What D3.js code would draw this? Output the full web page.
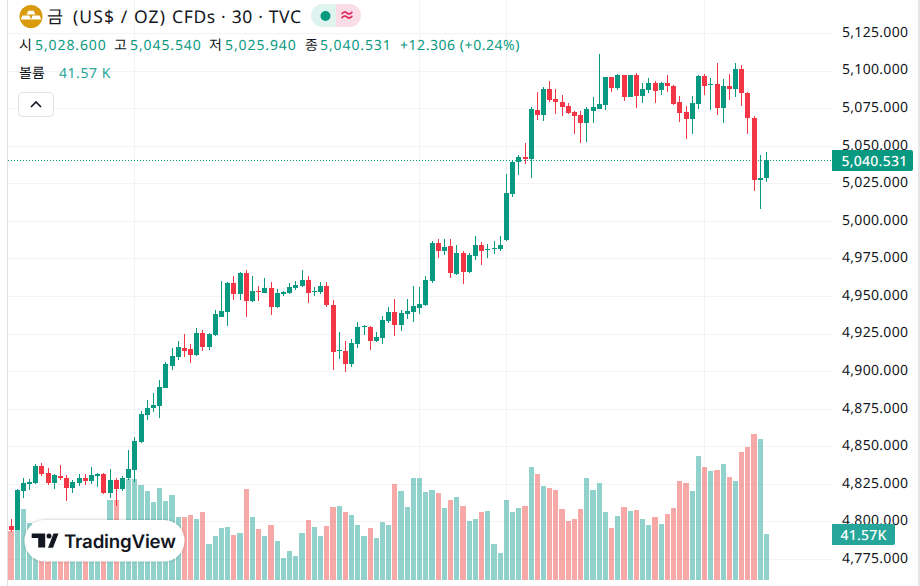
<!DOCTYPE html>
<html lang="ko">
<head>
<meta charset="utf-8">
<script src="https://cdn.jsdelivr.net/npm/d3@7"></script>
<style>
html,body{margin:0;padding:0;background:#fff;overflow:hidden}
svg{display:block}
text{font-family:"Noto Sans","Noto Sans CJK KR",sans-serif;text-rendering:geometricPrecision}
</style>
</head>
<body>
<svg id="c" width="920" height="586"></svg>
<script>
const opens=[4797.0,4794.3,4820.2,4824.9,4825.6,4836.9,4832.2,4825.6,4830.2,4828.9,4822.2,4825.6,4828.9,4826.9,4830.2,4831.6,4818.9,4827.6,4821.6,4828.9,4834.2,4852.9,4870.8,4875.5,4876.8,4888.8,4903.4,4909.4,4915.4,4914.7,4910.7,4925.4,4916.1,4924.1,4936.0,4939.4,4958.7,4951.3,4965.3,4946.7,4953.3,4952.0,4955.3,4942.7,4951.3,4952.0,4955.3,4956.7,4960.6,4952.7,4952.7,4956.7,4944.0,4913.4,4913.4,4904.8,4918.1,4929.4,4929.4,4920.1,4922.1,4933.4,4939.4,4930.7,4938.0,4939.4,4942.0,4944.0,4960.0,4985.3,4980.0,4983.3,4964.6,4978.6,4966.0,4976.6,4983.9,4980.6,4981.3,4981.3,4987.3,5017.9,5039.2,5042.5,5041.2,5073.8,5070.4,5087.7,5081.1,5079.1,5076.4,5072.4,5070.4,5065.1,5073.1,5074.4,5077.1,5095.7,5088.4,5097.1,5082.4,5097.1,5083.1,5087.1,5091.7,5087.1,5091.7,5089.7,5079.1,5072.4,5067.8,5077.8,5096.4,5090.4,5091.1,5075.1,5089.7,5087.7,5101.0,5085.1,5068.4,5027.2,5028.6];
const highs=[4801.6,4821.6,4828.9,4828.2,4838.2,4838.9,4835.6,4831.6,4837.5,4830.9,4827.6,4831.6,4831.6,4836.2,4832.2,4832.2,4834.9,4828.9,4830.2,4847.5,4856.2,4873.5,4880.8,4885.5,4894.1,4906.1,4915.4,4920.1,4924.7,4918.1,4928.7,4927.4,4925.4,4940.7,4960.0,4959.3,4963.3,4966.0,4967.3,4963.3,4956.7,4962.0,4959.3,4954.7,4953.3,4958.7,4960.0,4967.3,4963.3,4956.0,4959.3,4959.3,4947.3,4926.0,4920.1,4921.4,4932.7,4930.7,4930.0,4926.0,4936.7,4942.7,4948.0,4940.7,4948.0,4956.7,4956.0,4963.3,4986.6,4987.9,4987.9,4987.9,4983.9,4980.0,4978.6,4989.9,4985.9,4984.6,4986.6,4989.9,5031.2,5040.5,5043.8,5051.8,5075.8,5085.7,5089.1,5093.1,5087.7,5083.7,5078.4,5073.1,5073.1,5075.8,5082.4,5111.0,5095.7,5095.7,5097.7,5097.1,5097.1,5098.4,5091.7,5095.1,5093.1,5092.4,5097.1,5090.4,5083.1,5076.4,5083.1,5097.1,5097.7,5095.1,5105.0,5094.4,5097.7,5105.0,5103.7,5085.7,5069.8,5043.8,5045.54];
const lows=[4793.0,4794.0,4815.6,4820.9,4825.2,4830.2,4824.2,4821.6,4827.6,4813.6,4818.9,4823.6,4824.2,4824.9,4822.9,4818.3,4815.6,4810.3,4820.2,4827.6,4826.2,4852.5,4867.5,4872.8,4868.8,4888.5,4900.8,4907.4,4909.4,4905.4,4910.4,4913.4,4914.1,4923.4,4935.7,4930.0,4947.3,4947.3,4936.0,4946.0,4946.7,4951.7,4937.4,4942.0,4950.0,4951.3,4954.0,4956.0,4945.3,4950.0,4951.3,4942.7,4900.8,4908.1,4899.4,4902.8,4915.4,4924.1,4914.1,4919.4,4918.1,4932.0,4923.4,4926.7,4934.7,4932.7,4938.0,4943.3,4958.7,4975.3,4977.3,4962.0,4964.3,4958.0,4965.6,4974.0,4970.6,4975.3,4978.0,4980.0,4986.9,5015.9,5030.5,5037.8,5028.5,5067.1,5066.4,5079.1,5071.1,5069.8,5071.1,5057.8,5051.8,5052.5,5065.1,5074.1,5073.8,5085.7,5087.1,5079.8,5082.4,5075.1,5078.4,5085.1,5078.4,5083.7,5085.7,5077.1,5065.8,5054.5,5057.8,5074.4,5083.7,5073.8,5070.4,5065.1,5080.4,5082.4,5076.4,5057.8,5019.9,5007.9,5025.94];
const closes=[4794.3,4821.2,4825.6,4826.2,4836.9,4831.6,4825.6,4830.9,4828.9,4822.2,4826.2,4828.9,4826.9,4830.9,4831.6,4818.9,4827.6,4821.6,4828.9,4834.9,4853.5,4871.5,4875.5,4877.5,4889.5,4904.8,4910.1,4916.1,4913.4,4910.7,4925.4,4916.1,4924.7,4938.0,4940.0,4958.7,4951.3,4965.3,4946.7,4953.3,4952.7,4955.3,4942.7,4952.0,4952.7,4956.0,4957.3,4960.6,4952.0,4953.3,4956.7,4944.0,4912.7,4914.1,4904.8,4918.7,4929.4,4930.0,4920.1,4922.7,4934.0,4939.4,4930.7,4938.7,4940.0,4943.3,4944.7,4960.6,4985.3,4980.0,4982.6,4965.3,4978.6,4966.0,4977.3,4983.9,4980.0,4981.3,4981.9,4983.9,5018.5,5039.2,5042.5,5041.2,5074.4,5070.4,5087.7,5080.4,5079.1,5075.8,5071.8,5069.8,5065.1,5074.4,5075.8,5077.8,5095.7,5088.4,5097.1,5082.4,5097.1,5083.1,5087.7,5091.7,5086.4,5091.7,5089.7,5077.8,5071.8,5067.8,5078.4,5096.4,5089.7,5091.1,5075.1,5089.7,5087.7,5101.0,5085.1,5068.4,5027.2,5028.5,5040.531];
const volumes=[44.3,63.3,64.2,51.2,42.2,42.2,39.2,42.2,39.2,36.1,42.2,39.2,36.1,42.2,42.2,36.1,72.3,72.3,42.2,91.3,91.3,85.9,80.4,70.5,83.1,71.4,76.8,56.9,56.9,58.7,55.1,61.5,32.5,39.8,47.0,47.9,40.7,42.5,82.2,56.9,46.1,39.8,49.7,35.2,19.9,26.2,21.7,42.5,54.2,47.9,39.8,48.8,66.0,66.9,61.5,58.7,49.7,39.8,47.0,38.0,52.4,49.7,86.8,80.4,66.0,92.2,92.2,79.5,81.3,78.6,65.1,72.3,75.0,66.9,53.3,55.1,61.5,62.4,32.5,24.4,72.3,61.5,65.1,66.9,102.1,95.8,84.9,83.1,81.3,64.2,53.3,55.1,64.2,92.2,81.3,87.7,61.5,47.0,57.8,66.0,62.4,63.3,55.1,49.7,56.9,50.6,59.6,65.1,89.5,87.7,80.4,112.1,102.1,98.5,99.4,104.8,93.1,89.5,115.7,120.2,131.9,127.4,41.57];
const priceTicks=[5125,5100,5075,5050,5025,5000,4975,4950,4925,4900,4875,4850,4825,4800,4775];
const timeGridIndexes=[20,66,80,112];
const lastPrice=5040.531, lastVolumeLabel="41.57 K";
const legendLabels=["시","고","저","종"];
const legendValues=["5,028.600","5,045.540","5,025.940","5,040.531"];
const titleParts=["금","(US$ / OZ)","CFDs · 30 · TVC"];

const UP="#089981",DOWN="#f23645",VUP="#26a69a",VDOWN="#ef5350",GRID="#f3f3f3",TXT="#131722";
const svg=d3.select("#c");
const plotL=8,plotR=832,plotB=580;
const y=d3.scaleLinear().domain([4775,5125]).range([559,33]);
const xs=d3.scaleLinear().domain([0,122]).range([11,766.546]);
const px=i=>Math.floor(xs(i));
const v=d3.scaleLinear().domain([0,131.9]).range([plotB,434]);

svg.append("defs").append("clipPath").attr("id","plot").append("rect")
  .attr("x",plotL).attr("y",0).attr("width",plotR-plotL).attr("height",plotB);
svg.append("defs").append("filter").attr("id","wm").attr("x","-10%").attr("y","-20%").attr("width","120%").attr("height","140%")
  .append("feDropShadow").attr("dx",0).attr("dy",0).attr("stdDeviation",1.6).attr("flood-color","#000").attr("flood-opacity",.28);

// frame
svg.append("rect").attr("x",7).attr("y",0).attr("width",1).attr("height",586).attr("fill","#e0e0e0");
svg.append("rect").attr("x",918).attr("y",0).attr("width",2).attr("height",586).attr("fill","#e6e6e6");

// grid
const g=svg.append("g").attr("clip-path","url(#plot)");
g.selectAll(".h").data(priceTicks).join("rect").attr("x",plotL).attr("width",plotR-plotL)
  .attr("y",d=>Math.round(y(d))).attr("height",1).attr("fill",GRID);
g.selectAll(".t").data(timeGridIndexes).join("rect").attr("x",d=>px(d)).attr("width",1)
  .attr("y",0).attr("height",plotB).attr("fill",GRID);

const up=i=>closes[i]>=opens[i];
// volume
g.selectAll(".vol").data(volumes).join("rect")
  .attr("x",(d,i)=>i?px(i-1)+4:px(i)-4)
  .attr("width",(d,i)=>px(i)+3-(i?px(i-1)+4:px(i)-4))
  .attr("y",d=>Math.round(v(d))).attr("height",d=>plotB-Math.round(v(d)))
  .attr("fill",(d,i)=>up(i)?VUP:VDOWN).attr("fill-opacity",.5);

// last-price dotted line
g.append("line").attr("x1",plotL).attr("x2",plotR)
  .attr("y1",Math.round(y(lastPrice))+.5).attr("y2",Math.round(y(lastPrice))+.5)
  .attr("stroke",UP).attr("stroke-width",1).attr("stroke-dasharray","1 2");

// candles
const idx=d3.range(opens.length);
g.selectAll(".wick").data(idx).join("rect")
  .attr("x",i=>px(i)).attr("width",1)
  .attr("y",i=>Math.round(y(highs[i])))
  .attr("height",i=>Math.max(1,Math.round(y(lows[i]))-Math.round(y(highs[i]))))
  .attr("fill",i=>up(i)?UP:DOWN);
g.selectAll(".body").data(idx).join("rect")
  .attr("x",i=>px(i)-2).attr("width",5)
  .attr("y",i=>Math.round(y(Math.max(opens[i],closes[i]))))
  .attr("height",i=>Math.max(1,Math.round(y(Math.min(opens[i],closes[i])))-Math.round(y(Math.max(opens[i],closes[i])))))
  .attr("fill",i=>up(i)?UP:DOWN);

// price axis
const axis=d3.axisRight(y).tickValues(priceTicks).tickSize(0).tickPadding(0).tickFormat(d3.format(",.3f"));
const ag=svg.append("g").attr("transform","translate(842,0)").call(axis);
ag.select(".domain").remove();
ag.selectAll("text").attr("font-size",14).attr("fill",TXT).style("font-family",'"Noto Sans",sans-serif')
  .attr("letter-spacing",".3").attr("dy","0.1em").attr("y",2);

// price labels
function tag(x,yy,w,h,fill,t,tx){
  svg.append("path").attr("d",`M${x} ${yy}h${w-2}a2 2 0 0 1 2 2v${h-4}a2 2 0 0 1 -2 2h-${w-2}z`).attr("fill",fill);
  svg.append("text").attr("x",tx).attr("y",yy+h/2+5).attr("font-size",14).attr("fill","#fff").attr("font-weight",500).attr("letter-spacing",".25").text(t);
}
tag(832,150,81,21,UP,d3.format(",.3f")(lastPrice),841.5);
tag(832,524,63,21,VUP,lastVolumeLabel.replace(" ",""),840.5);

// watermark
const wm=svg.append("g");
wm.append("rect").attr("x",24.5).attr("y",520).attr("width",160).attr("height",41.5).attr("rx",20.7).attr("fill","#fff").attr("filter","url(#wm)");
wm.append("path").attr("fill","#131722").attr("d","M31.7 533.5h13.5v14h-7v-9.5h-6.5z");
wm.append("circle").attr("cx",49).attr("cy",536).attr("r",2.5).attr("fill","#131722");
wm.append("path").attr("fill","#131722").attr("d","M48 547.7L53.5 533.5H58.5L53 547.7z");
wm.append("text").attr("x",64).attr("y",548).attr("font-size",18.7).attr("font-weight",600).attr("fill","#131722").style("font-family",'"Inter",sans-serif').attr("letter-spacing","-0.2").text("TradingView");

// title row
svg.append("circle").attr("cx",31).attr("cy",16.5).attr("r",11.5).attr("fill","#d99a0b");
const coin=svg.append("g").attr("fill","#fff");
coin.append("path").attr("d","M28.2 10.8h5.6l1.6 3.6h-8.8z");
coin.append("path").attr("d","M22.4 15.4h7l1.6 4h-10.2z");
coin.append("path").attr("d","M32.6 15.4h7l1.6 4h-10.2z");
const titleX=[47,73,172], titleLS=[0,1.1,.65];
titleParts.forEach((t,i)=>svg.append("text").attr("x",titleX[i]).attr("y",23).attr("font-size",17.5).attr("letter-spacing",titleLS[i]).attr("xml:space","preserve").attr("fill",TXT).text(t));

// status pill
svg.append("path").attr("d","M336 4h-13.5a11.5 11.5 0 0 0 0 23h13.5z").attr("fill","#dff3ef");
svg.append("path").attr("d","M336 4h13.5a11.5 11.5 0 0 1 0 23h-13.5z").attr("fill","#fbdde7");
svg.append("circle").attr("cx",325.5).attr("cy",16).attr("r",5).attr("fill",UP);
svg.append("text").attr("x",339).attr("y",21).attr("font-size",16).attr("font-weight",700).attr("fill","#e0245e").text("≈");

// legend row
const legX=[19,114,209,305], valX=[35,130,225,320];
legendLabels.forEach((l,i)=>{
  svg.append("text").attr("x",legX[i]).attr("y",50).attr("font-size",14).attr("fill",TXT).text(l);
  svg.append("text").attr("x",valX[i]).attr("y",50).attr("font-size",14).attr("letter-spacing",".9").attr("fill",UP).text(legendValues[i]);
});
svg.append("text").attr("x",400).attr("y",50).attr("font-size",14).attr("letter-spacing",".55").attr("fill",UP).text("+12.306 (+0.24%)");
svg.append("text").attr("x",19).attr("y",78).attr("font-size",14).attr("fill",TXT).text("볼륨");
svg.append("text").attr("x",59).attr("y",78).attr("font-size",14).attr("letter-spacing",".55").attr("fill",VUP).text(lastVolumeLabel);

// collapse button
svg.append("rect").attr("x",18.5).attr("y",92.5).attr("width",35).attr("height",24).attr("rx",4).attr("fill","#fff").attr("stroke","#e0e3eb");
svg.append("path").attr("d","M31 107l5-5 5 5").attr("fill","none").attr("stroke",TXT).attr("stroke-width",1.6);
</script>
</body>
</html>
